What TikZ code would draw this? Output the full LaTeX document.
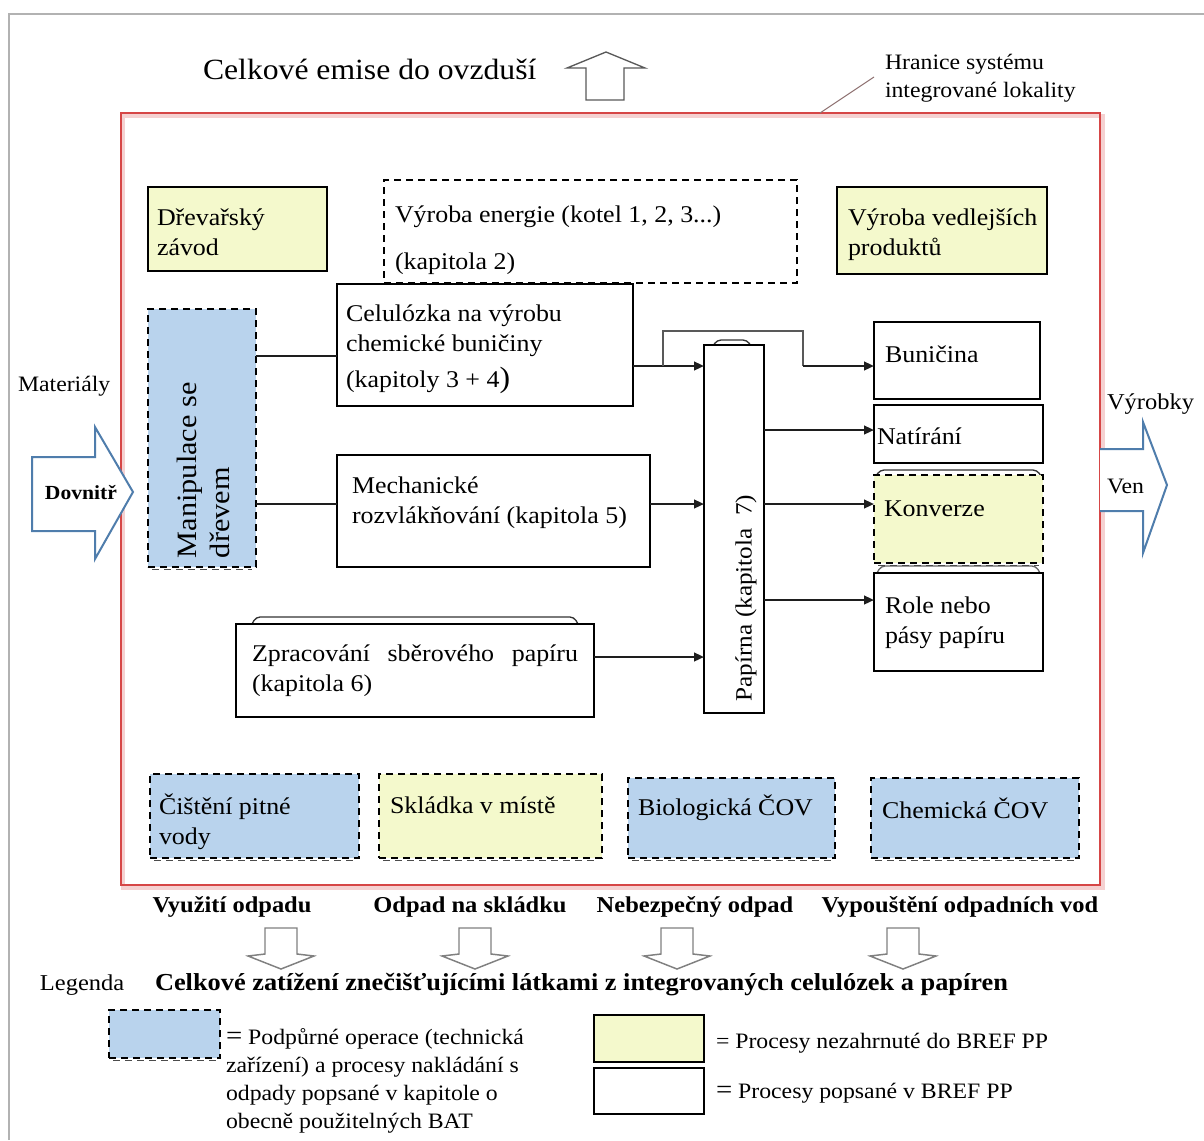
\documentclass[tikz,border=0pt]{standalone}
\usepackage{fontspec}
\setmainfont{Liberation Serif}[FakeStretch=1.08]
\usetikzlibrary{arrows.meta,fit}
\definecolor{paleyellow}{RGB}{244,249,204}
\definecolor{paleblue}{RGB}{185,211,237}
\definecolor{siteRed}{RGB}{214,70,70}
\definecolor{arrowBlue}{RGB}{79,125,172}
\definecolor{lineDark}{RGB}{30,30,30}
\begin{document}
\begin{tikzpicture}[x=0.75pt,y=-0.75pt,
  every node/.style={inner sep=0pt, outer sep=0pt},
  procbox/.style={draw=black, line width=1pt, fill=white, inner sep=0pt},
  thickbox/.style={draw=black, line width=2.2pt, fill=white, inner sep=0pt},
  extbox/.style={procbox, fill=paleyellow},
  supbox/.style={draw=black, line width=1.8pt, dash pattern=on 5.5pt off 3.5pt, fill=paleblue, inner sep=0pt},
  extdash/.style={supbox, fill=paleyellow},
  plaindash/.style={supbox, fill=white},
  dashshadow/.style={draw=black!70, line width=1.2pt, dash pattern=on 5.5pt off 3.5pt},
  lbl/.style={anchor=base west, align=left, font=\fontsize{18}{22}\selectfont},
  note/.style={anchor=base west, align=left, font=\fontsize{16.5}{21}\selectfont},
  outlbl/.style={anchor=base, font=\bfseries\fontsize{17}{20}\selectfont},
  flow/.style={draw=lineDark, line width=1.6pt},
  flowarr/.style={flow, -{Triangle[length=7.5pt,width=6.5pt]}},
  bigin/.style={draw=arrowBlue, line width=1.5pt, fill=white, line join=miter},
  sinkarrow/.style={draw=gray, line width=1.1pt, fill=white},
  tab/.style={draw=black!80, line width=1pt, rounded corners=3pt}
]
\useasboundingbox (0,0) rectangle (1204,1140);

% outer frame
\draw[gray!60, line width=1.5pt] (9,1140) -- (9,14) -- (1204,14);

% system boundary of the integrated site
\draw[siteRed!25, line width=3pt] (123,116) rectangle (1103,888);
\node[draw=siteRed, line width=2pt, fit={(121,113) (1100,885)}] (site) {};

% emissions to air
\node[anchor=base west, font=\fontsize{22}{26}\selectfont] (emit) at (203,79) {Celkové emise do ovzduší};
\draw[gray!70!black, line width=1pt, fill=white] (586,100) -- (586,68) -- (567,68) -- (606,52) -- (645,68) -- (624,68) -- (624,100) -- cycle;

% boundary label with leader line (node base = last line)
\node[note] (hran) at (885,97) {Hranice systému\\integrované lokality};
\coordinate (leadend) at (874,77);
\draw[gray!80!siteRed, line width=0.8pt] (site.north -| 820,0) -- (leadend);

% input arrow
\node[note] (mat) at (18,391) {Materiály};
\draw[bigin] (32,457) -- (95,457) -- (95,427) -- (133,492) -- (95,559) -- (95,531) -- (32,531) -- cycle;
\node[anchor=base west, font=\bfseries\fontsize{15}{18}\selectfont] (dovn) at (45,499) {Dovnitř};

% output arrow
\draw[bigin] (site.east |- 0,449) -- (1143,449) -- (1143,422) -- (1167,485) -- (1143,553) -- (1143,511) -- (site.east |- 0,511);
\node[note, font=\fontsize{17}{21}\selectfont] (vyr) at (1107,409) {Výrobky};
\node[note] (ven) at (1107,493) {Ven};

% upper row
\node[extbox, fit={(148,187) (327,271)}] (drev) {};
\node[lbl] (drevt) at (157,255) {Dřevařský\\závod};
\node[plaindash, fit={(384,180) (797,283)}] (energ) {};
\node[lbl] (energt) at (395,269) {Výroba energie (kotel 1, 2, 3...)\\[13pt](kapitola 2)};
\node[extbox, fit={(837,187) (1047,274)}] (vedl) {};
\node[lbl] (vedlt) at (848,255) {Výroba vedlejších\\produktů};

% wood handling
\node[supbox, fit={(148,309) (256,567)}] (manip) {};
\node[rotate=90, anchor=north west, align=left, font=\fontsize{21}{25}\selectfont] (manipt) at (177,558) {Manipulace se\\dřevem};

% pulping lines
\node[procbox, fit={(337,284) (633,406)}] (cel) {};
\node[lbl] (celt) at (346,387) {Celulózka na výrobu\\chemické buničiny\\[5pt](kapitoly 3 + 4{\fontsize{22}{22}\selectfont )}};
\node[procbox, fit={(337,455) (650,567)}] (mech) {};
\node[lbl] (mecht) at (352,523) {Mechanické\\rozvlákňování (kapitola 5)};
\draw[tab] (252,624) -- (256,617) -- (574,617) -- (578,624);
\node[procbox, fit={(236,624) (594,717)}] (zpr) {};
\node[lbl] (zprt) at (252,691) {\makebox[244.5pt][s]{Zpracování sběrového papíru}\\(kapitola 6)};

% paper mill
\draw[tab] (713,346) -- (717,340) -- (747,340) -- (751,346);
\node[thickbox, fit={(704,345) (764,713)}] (pap) {};
\node[rotate=90, font=\fontsize{17.5}{21}\selectfont] (papt) at (746,598) {Papírna (kapitola~~7)};

% products
\node[thickbox, fit={(874,322) (1040,399)}] (bun) {};
\node[lbl] (bunt) at (885,362) {Buničina};
\node[thickbox, fit={(874,405) (1043,463)}] (nat) {};
\node[lbl] (natt) at (877,444) {Natírání};
\draw[tab] (876,476) -- (880,470) -- (1037,470) -- (1041,476);
\node[extdash, fit={(874,475) (1043,563)}] (konv) {};
\node[lbl] (konvt) at (884,516) {Konverze};
\draw[tab, draw=black!60] (877,573) -- (881,566) -- (1036,566) -- (1040,573);
\node[thickbox, fit={(874,573) (1043,671)}] (role) {};
\node[lbl] (rolet) at (885,643) {Role nebo\\pásy papíru};

% flows
\draw[flow] (manip.east |- 0,356) -- (cel.west |- 0,356);
\draw[flow] (manip.east |- 0,504) -- (mech.west |- 0,504);
\draw[flowarr] (cel.east |- 0,366) -- (pap.west |- 0,366);
\coordinate (splitA) at (663,366);
\coordinate (splitB) at (803,366);
\draw[draw=gray!70!black, line width=1pt] (splitA) -- (663,331) -- (803,331) -- (splitB);
\draw[flowarr] (splitB) -- (bun.west |- splitB);
\draw[flowarr] (mech.east |- 0,504) -- (pap.west |- 0,504);
\draw[flowarr] (zpr.east |- 0,657) -- (pap.west |- 0,657);
\draw[flowarr] (pap.east |- 0,430) -- (nat.west |- 0,430);
\draw[flowarr] (pap.east |- 0,504) -- (konv.west |- 0,504);
\draw[flowarr] (pap.east |- 0,600) -- (role.west |- 0,600);

% support units
\node[supbox, fit={(150,774) (359,858)}] (cist) {};
\node[lbl] (cistt) at (159,844) {Čištění pitné\\vody};
\node[extdash, fit={(379,774) (602,858)}] (skl) {};
\node[lbl] (sklt) at (390,813) {Skládka v místě};
\node[supbox, fit={(628,778) (835,858)}] (bio) {};
\node[lbl] (biot) at (638,815) {Biologická ČOV};
\node[supbox, fit={(871,778) (1079,858)}] (chem) {};
\node[lbl] (chemt) at (882,818) {Chemická ČOV};

% outgoing loads
\node[outlbl] (o1) at (232,912) {Využití odpadu};
\node[outlbl] (o2) at (470,912) {Odpad na skládku};
\node[outlbl] (o3) at (695,912) {Nebezpečný odpad};
\node[outlbl] (o4) at (960,912) {Vypouštění odpadních vod};
\foreach \cx in {281,475,677,903}
  \draw[sinkarrow] (\cx-16,928) -- (\cx+16,928) -- (\cx+16,954) -- (\cx+33,956) -- (\cx,969) -- (\cx-33,956) -- (\cx-16,954) -- cycle;

% legend
\node[anchor=base west, font=\fontsize{17}{20}\selectfont] (leg) at (40,990) {Legenda};
\node[anchor=base west, font=\bfseries\fontsize{18.3}{21}\selectfont] (total) at (155,990) {Celkové zatížení znečišťujícími látkami z integrovaných celulózek a papíren};
\node[supbox, fit={(109,1010) (220,1058)}] (legsup) {};
\node[note] (legsupt) at (226,1128) {{\fontsize{20}{20}\selectfont =} Podpůrné operace (technická\\zařízení) a procesy nakládání s\\odpady popsané v kapitole o\\obecně použitelných BAT};
\node[extbox, fit={(594,1015) (704,1062)}] (legext) {};
\node[note] (legextt) at (716,1048) {= Procesy nezahrnuté do BREF PP};
\node[procbox, fit={(594,1068) (704,1114)}] (legproc) {};
\node[note] (legproct) at (716,1098) {{\fontsize{20}{20}\selectfont =} Procesy popsané v BREF PP};

% doubled lower edges of the dashed boxes
\foreach \b in {manip,cist,skl,bio,chem,konv,legsup}
  \draw[dashshadow] ([xshift=3pt,yshift=-2pt]\b.south west) -- ([xshift=-3pt,yshift=-2pt]\b.south east);
\end{tikzpicture}
\end{document}
